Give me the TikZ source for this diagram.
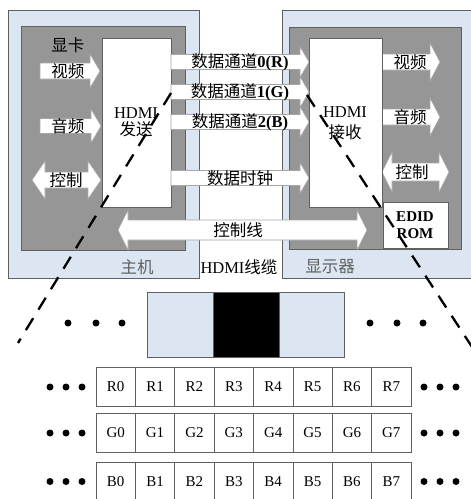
\documentclass[tikz,border=0pt]{standalone}
\usepackage{fontspec}
\setmainfont{Liberation Serif}
\newfontfamily\cjk{Noto Sans CJK SC}
\definecolor{paleblue}{HTML}{DCE6F2}
\definecolor{midgray}{HTML}{969696}
\definecolor{edge}{HTML}{606060}
\newcommand\rarr[6]{%
  \draw[barrow] ({#1},{#3-#4}) -- ({#2-#6},{#3-#4}) -- ({#2-#6},{#3-#5}) -- ({#2},{#3})
    -- ({#2-#6},{#3+#5}) -- ({#2-#6},{#3+#4}) -- ({#1},{#3+#4}) -- cycle;}
\newcommand\darr[6]{%
  \draw[barrow] ({#1},{#3}) -- ({#1+#6},{#3-#5}) -- ({#1+#6},{#3-#4}) -- ({#2-#6},{#3-#4})
    -- ({#2-#6},{#3-#5}) -- ({#2},{#3}) -- ({#2-#6},{#3+#5}) -- ({#2-#6},{#3+#4})
    -- ({#1+#6},{#3+#4}) -- ({#1+#6},{#3+#5}) -- cycle;}
\begin{document}
\begin{tikzpicture}[x=1pt,y=-1pt,
  box/.style={draw=edge, line width=0.8pt, rectangle, anchor=north west, inner sep=0pt, outer sep=0pt},
  barrow/.style={draw=gray!70, fill=white, line width=0.6pt},
  lab/.style={font=\fontsize{16.5}{18}\selectfont, inner sep=0pt},
  cell/.style={draw=edge, line width=0.7pt, minimum width=39.4pt, minimum height=39pt, inner sep=0pt, outer sep=0pt, font=\fontsize{15}{17}\selectfont},
  dotc/.style={fill=black, circle, inner sep=0pt, minimum size=7pt},
  cut/.style={line width=2.3pt, dash pattern=on 14pt off 10pt}]
\useasboundingbox (0,0) rectangle (471,499);
\clip (0,0) rectangle (471,499);
% boxes
\node[box, fill=paleblue, minimum width=191pt, minimum height=268pt] (host) at (8,10) {};
\node[box, fill=midgray, minimum width=164pt, minimum height=224pt] (card) at (21,26) {};
\node[box, fill=paleblue, minimum width=192pt, minimum height=268pt] (disp) at (282,10) {};
\node[box, fill=midgray, minimum width=172pt, minimum height=222pt] (dgray) at (289,27) {};
% left arrows
\rarr{40}{100}{71}{8}{17}{10}
\rarr{40}{101}{126}{7.5}{17}{10}
\darr{32}{101}{180}{8}{19}{13}
% right arrows
\rarr{382}{440}{62}{8}{19}{10}
\rarr{382}{440}{117}{8}{19}{10}
\darr{382}{449}{172}{9}{20}{10}
% control line
\darr{118}{367}{230}{10}{20}{10}
% HDMI boxes
\node[box, fill=white, minimum width=69pt, minimum height=169pt] (tx) at (102,38) {};
\node[box, fill=white, minimum width=73pt, minimum height=169pt] (rx) at (309,38) {};
\node[box, fill=white, minimum width=65pt, minimum height=46pt, font=\fontsize{15}{16}\selectfont\bfseries, align=center] (edid) at (383,202) {};
% data arrows
\rarr{171}{309}{62}{7.5}{15.5}{9}
\rarr{171}{309}{92}{7.5}{15.5}{9}
\rarr{171}{309}{122}{7.5}{15.5}{9}
\rarr{171}{309}{178}{7.5}{15.5}{9}
% texts
\node[lab] (t1) at (68,45) {\cjk 显卡};
\node[lab] (t2) at (68,71) {\cjk 视频};
\node[lab] (t3) at (68,126) {\cjk 音频};
\node[lab] (t4) at (66,180) {\cjk 控制};
\node[lab] (t5) at (136,113) {HDMI};
\node[lab] (t6) at (136,129) {\cjk 发送};
\node[lab] (t7) at (345,112) {HDMI};
\node[lab] (t8) at (345,132) {\cjk 接收};
\node[lab] (t9) at (410,62) {\cjk 视频};
\node[lab] (t10) at (410,117) {\cjk 音频};
\node[lab] (t11) at (412,172) {\cjk 控制};
\node[lab, font=\fontsize{15}{17}\selectfont\bfseries, align=center] (t12) at (415,225) {EDID\\ROM};
\node[lab] (d0) at (240,62) {{\cjk 数据通道}\textbf{0(R)}};
\node[lab] (d1) at (240,92) {{\cjk 数据通道}\textbf{1(G)}};
\node[lab] (d2) at (240,122) {{\cjk 数据通道}\textbf{2(B)}};
\node[lab] (d3) at (240,178) {\cjk 数据时钟};
\node[lab] (d4) at (238,230) {\cjk 控制线};
\node[lab, text=edge] (l1) at (137,267) {\cjk 主机};
\node[lab] (l2) at (239,267) {HDMI{\cjk 线缆}};
\node[lab, text=edge] (l3) at (330,267) {\cjk 显示器};
% zoom rectangle
\node[box, fill=paleblue, minimum width=197pt, minimum height=65pt] (strip) at (147,292) {};
\node[box, fill=black, minimum width=66pt, minimum height=65pt] (pix) at (213,292) {};
\foreach \x [count=\i] in {68,96,122,370,397,423} \node[dotc] (sd\i) at (\x,323) {};
% grid
\foreach \L/\y in {R/387,G/433,B/481.5} {
  \foreach \k in {0,...,7} \node[cell] (\L\k) at ({96+19.7+39.375*\k},\y) {\L\k};
  \foreach \x [count=\i] in {50,66,82,424,440,456} \node[dotc] (\L dot\i) at (\x,\y) {};
}
% dashed cut lines
\coordinate (c1) at (171,93);
\coordinate (c2) at (18,343);
\coordinate (c3) at (307,95);
\coordinate (c4) at (476,353);
\draw[cut] (c1) -- (c2);
\draw[cut] (c3) -- (c4);
\end{tikzpicture}
\end{document}
